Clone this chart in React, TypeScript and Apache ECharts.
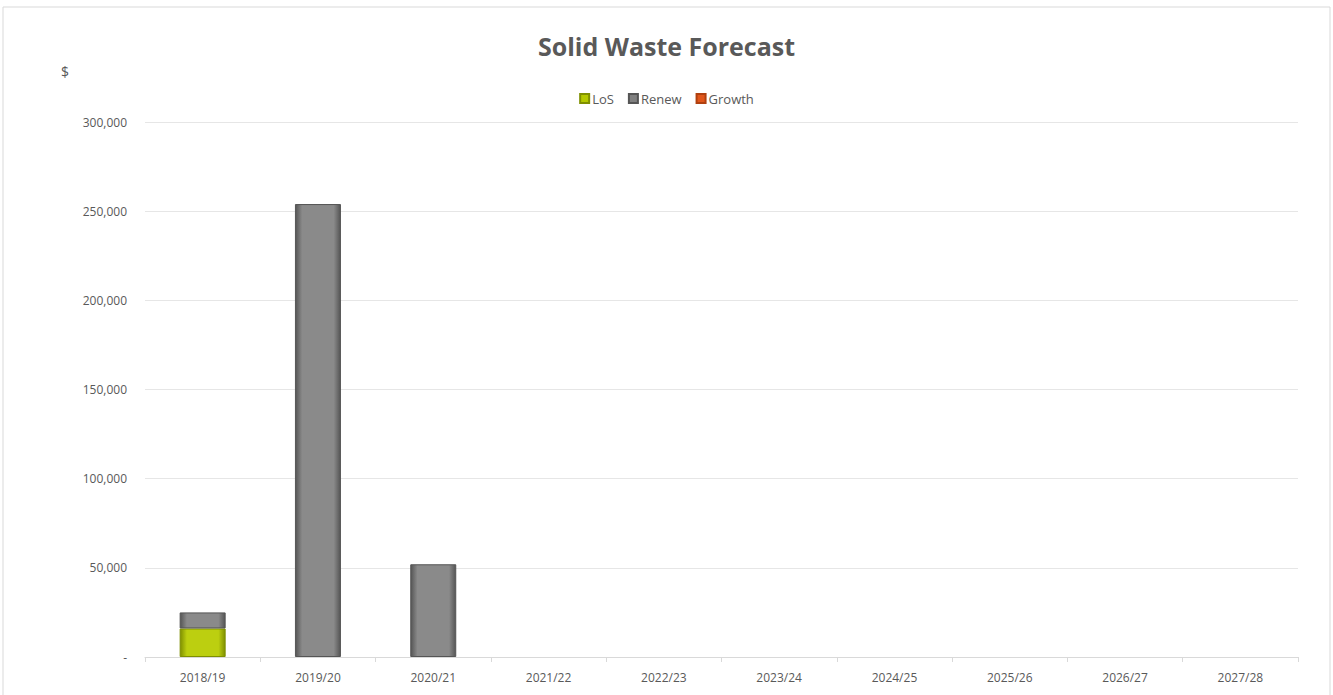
import React, { useEffect, useRef } from "react";
import * as echarts from "echarts";

const categories = ["2018/19", "2019/20", "2020/21", "2021/22", "2022/23", "2023/24", "2024/25", "2025/26", "2026/27", "2027/28"];
const losValues = [16000, 0, 0, 0, 0, 0, 0, 0, 0, 0];
const renewValues = [9000, 254000, 52000, 0, 0, 0, 0, 0, 0, 0];
const growthValues = [0, 0, 0, 0, 0, 0, 0, 0, 0, 0];
const yAxisUnit = "$";

const hGrad = (edge: string, mid: string) =>
  new echarts.graphic.LinearGradient(0, 0, 1, 0, [
    { offset: 0, color: edge },
    { offset: 0.15, color: mid },
    { offset: 0.85, color: mid },
    { offset: 1, color: edge },
  ]);

export default function App() {
  const ref = useRef<HTMLDivElement>(null);
  useEffect(() => {
    if (!ref.current) return;
    const chart = echarts.init(ref.current, null, { renderer: "svg" });
    const font = "'Open Sans', 'Noto Sans', sans-serif";
    const fmt = (v: number) => (v === 0 ? "-" : v.toLocaleString("en-US"));
    const mk = (name: string, data: number[], edge: string, mid: string, legendColor: string) => ({
      name,
      type: "bar",
      stack: "total",
      barWidth: 46,
      data: data.map((v) => (v === 0 ? null : v)),
      itemStyle: { color: hGrad(edge, mid), borderColor: edge, borderWidth: 1 },
      color: legendColor,
    });
    chart.setOption({
      animation: false,
      backgroundColor: "#ffffff",
      graphic: [
        {
          type: "rect",
          shape: { x: 3, y: 7, width: 1327, height: 690 },
          style: { fill: "none", stroke: "#d9d9d9", lineWidth: 1 },
          silent: true,
        },
        {
          type: "text",
          left: 61,
          top: 64,
          style: { text: yAxisUnit, fontFamily: font, fontSize: 14, fill: "#595959" },
          silent: true,
        },
      ],
      title: {
        text: "Solid Waste Forecast",
        left: "center",
        top: 28,
        textStyle: { fontFamily: font, fontSize: 25, fontWeight: "bold", color: "#595959" },
      },
      legend: {
        top: 87,
        left: "center",
        itemWidth: 9,
        itemHeight: 9,
        itemGap: 14,
        icon: "rect",
        textStyle: { fontFamily: font, fontSize: 13, color: "#595959", padding: [0, 0, 0, -2] },
        data: [
          { name: "LoS", itemStyle: { color: "#b4c800" } },
          { name: "Renew", itemStyle: { color: "#808080" } },
          { name: "Growth", itemStyle: { color: "#e0561b" } },
        ],
      },
      grid: { left: 145, right: 35, top: 122, bottom: 38 },
      xAxis: {
        type: "category",
        data: categories,
        boundaryGap: true,
        axisLine: { lineStyle: { color: "#d9d9d9" } },
        axisTick: { show: true, alignWithLabel: false, lineStyle: { color: "#d9d9d9" } },
        axisLabel: { fontFamily: font, fontSize: 12, color: "#595959", margin: 14 },
      },
      yAxis: {
        type: "value",
        min: 0,
        max: 300000,
        interval: 50000,
        axisLine: { show: false },
        axisTick: { show: false },
        axisLabel: { fontFamily: font, fontSize: 12, color: "#595959", margin: 18, formatter: fmt },
        splitLine: { lineStyle: { color: "#e6e6e6" } },
      },
      series: [
        mk("LoS", losValues, "#7f8f00", "#bccf10", "#b4c800"),
        mk("Renew", renewValues, "#555555", "#8a8a8a", "#808080"),
        mk("Growth", growthValues, "#b0400f", "#e0561b", "#e0561b"),
      ],
    });
    return () => chart.dispose();
  }, []);
  return <div ref={ref} style={{ position: "fixed", left: 0, top: 0, width: 1333, height: 695 }} />;
}
